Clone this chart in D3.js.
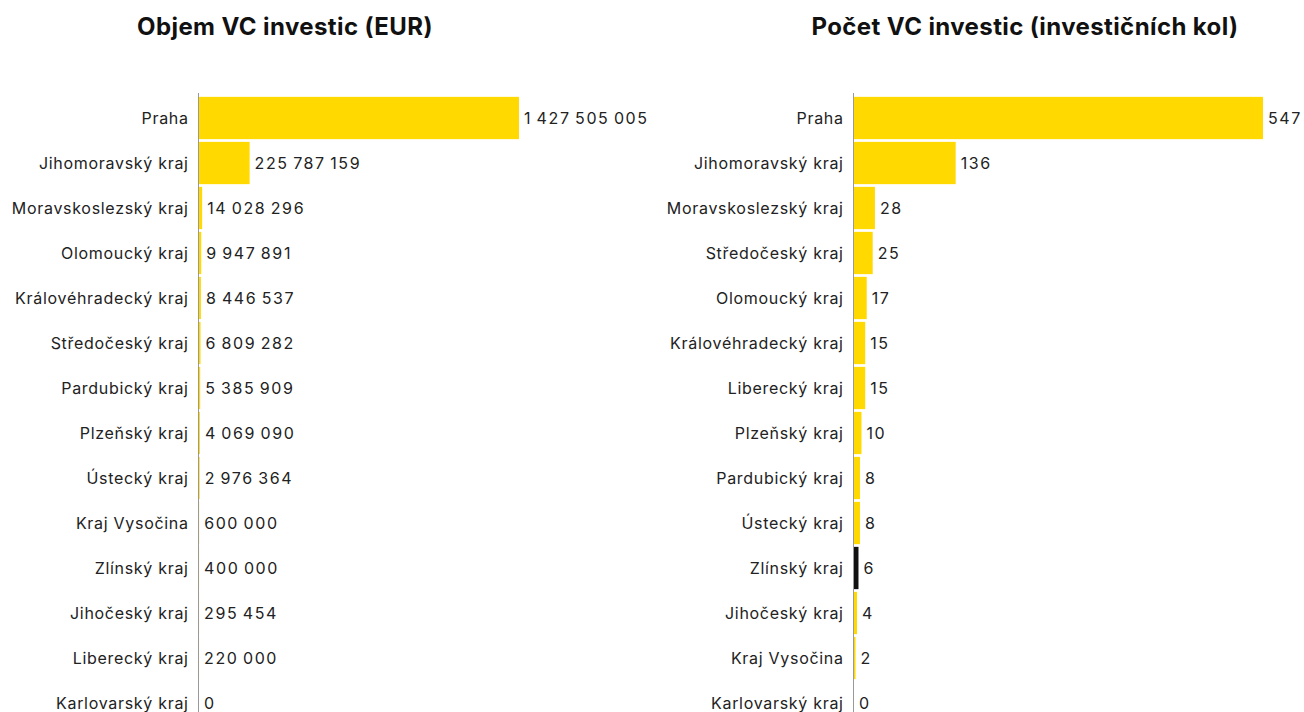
<!DOCTYPE html>
<html>
<head>
<meta charset="utf-8">
<script src="https://cdn.jsdelivr.net/npm/d3@7"></script>
<style>
  body { margin: 0; background: #fff; }
  svg { display: block; font-family: Inter, "Noto Sans", sans-serif; }
  .title { font-weight: 700; font-size: 24px; fill: #111; letter-spacing: 0.4px; }
  .lbl { font-size: 16px; fill: #222; letter-spacing: 0.7px; }
  .val { font-size: 16px; fill: #222; letter-spacing: 1.6px; }
</style>
</head>
<body>
<div id="chart"></div>
<script>
// objem investic (EUR)
var volumeRegions = ['Praha', 'Jihomoravský kraj', 'Moravskoslezský kraj', 'Olomoucký kraj',
  'Královéhradecký kraj', 'Středočeský kraj', 'Pardubický kraj', 'Plzeňský kraj', 'Ústecký kraj',
  'Kraj Vysočina', 'Zlínský kraj', 'Jihočeský kraj', 'Liberecký kraj', 'Karlovarský kraj'];
var volumeValues = [1427505005, 225787159, 14028296, 9947891, 8446537, 6809282, 5385909,
  4069090, 2976364, 600000, 400000, 295454, 220000, 0];

// pocet investic (kol)
var countRegions = ['Praha', 'Jihomoravský kraj', 'Moravskoslezský kraj', 'Středočeský kraj',
  'Olomoucký kraj', 'Královéhradecký kraj', 'Liberecký kraj', 'Plzeňský kraj', 'Pardubický kraj',
  'Ústecký kraj', 'Zlínský kraj', 'Jihočeský kraj', 'Kraj Vysočina', 'Karlovarský kraj'];
var countValues = [547, 136, 28, 25, 17, 15, 15, 10, 8, 8, 6, 4, 2, 0];

var highlighted = 'Zlínský kraj';

var W = 1304, H = 712;
var svg = d3.select('#chart').append('svg').attr('width', W).attr('height', H);

var fmt = d3.formatLocale({ decimal: ',', thousands: '\u2009', grouping: [3], currency: ['', ' €'] }).format(',d');

function panel(opts) {
  var g = svg.append('g');

  g.append('text').attr('class', 'title')
    .attr('x', opts.titleX).attr('y', 35)
    .attr('text-anchor', 'middle')
    .text(opts.title);

  var y = d3.scaleBand()
    .domain(opts.regions)
    .range([95.5, 95.5 + 45 * opts.regions.length])
    .paddingInner(0.06).paddingOuter(0.03);

  var x = d3.scaleLinear()
    .domain([0, d3.max(opts.values)])
    .range([opts.x0, opts.x1]);

  var data = opts.regions.map(function(r, i) { return { name: r, value: opts.values[i] }; });

  g.selectAll('rect.bar').data(data).enter().append('rect')
    .attr('class', 'bar')
    .attr('x', x(0))
    .attr('y', function(d) { return y(d.name); })
    .attr('width', function(d) { return x(d.value) - x(0); })
    .attr('height', y.bandwidth())
    .attr('fill', function(d) { return opts.highlight && d.name === highlighted ? '#111' : '#FFD900'; });

  g.append('line')
    .attr('x1', x(0) - 0.5).attr('x2', x(0) - 0.5)
    .attr('y1', 93).attr('y2', H)
    .attr('stroke', '#999').attr('stroke-width', 1);

  g.selectAll('text.lbl').data(data).enter().append('text')
    .attr('class', 'lbl')
    .attr('x', x(0) - 10.3)
    .attr('y', function(d) { return y(d.name) + y.bandwidth() / 2; })
    .attr('dy', '0.35em')
    .attr('text-anchor', 'end')
    .text(function(d) { return d.name; });

  g.selectAll('text.val').data(data).enter().append('text')
    .attr('class', 'val')
    .attr('x', function(d) { return x(d.value) + 5; })
    .attr('y', function(d) { return y(d.name) + y.bandwidth() / 2; })
    .attr('dy', '0.35em')
    .text(function(d) { return fmt(d.value); });
}

panel({ title: 'Objem VC investic (EUR)', titleX: 285, regions: volumeRegions, values: volumeValues, x0: 199, x1: 519 });
panel({ title: 'Počet VC investic (investičních kol)', titleX: 1025, regions: countRegions, values: countValues, x0: 854, x1: 1263, highlight: true });
</script>
</body>
</html>
